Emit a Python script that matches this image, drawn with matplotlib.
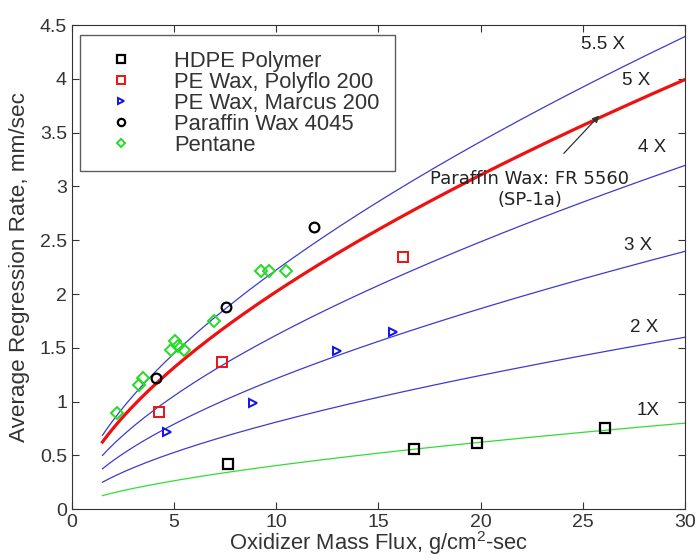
import matplotlib
matplotlib.use("Agg")
import matplotlib.pyplot as plt
import numpy as np

plt.rcParams['font.family'] = ['Liberation Sans', 'DejaVu Sans']
plt.rcParams['mathtext.fontset'] = 'custom'
plt.rcParams['mathtext.rm'] = 'Liberation Sans'

# regression law r = a * G^n, scaled by multiples
a_coef = 0.097
n_exp = 0.62
multiples = [1, 2, 3, 4, 5.5]
multiple_labels = ["1X", "2 X", "3 X", "4 X", "5.5 X"]
label_pos = [(28.2, 0.92), (28.0, 1.69), (27.7, 2.45), (28.4, 3.36), (26.0, 4.32)]
paraffin_multiple = 5

hdpe_x = [7.65, 16.75, 19.84, 26.07]
hdpe_y = [0.415, 0.557, 0.61, 0.75]
polyflo_x = [4.27, 7.33, 16.22]
polyflo_y = [0.90, 1.37, 2.34]
marcus_x = [4.67, 8.84, 12.95, 15.73]
marcus_y = [0.72, 0.99, 1.47, 1.65]
p4045_x = [4.14, 7.52, 11.85]
p4045_y = [1.215, 1.88, 2.62]
pentane_x = [2.22, 3.30, 3.46, 4.83, 5.04, 5.2, 5.48, 6.95, 9.25, 9.66, 10.47]
pentane_y = [0.895, 1.15, 1.22, 1.48, 1.56, 1.52, 1.48, 1.75, 2.21, 2.21, 2.21]

fig = plt.figure(figsize=(6.97, 5.6), dpi=100)
ax = fig.add_axes([0.103, 0.091, 0.88, 0.864])

G = np.linspace(1.5, 30, 200)
base = a_coef * G ** n_exp
for m, lab, pos in zip(multiples, multiple_labels, label_pos):
    col = "#33dd33" if m == 1 else "#3c3ccc"
    ax.plot(G, m * base, color=col, linewidth=0.9)
    ax.text(pos[0], pos[1], lab, fontsize=13.5, color="#222222", ha="center", va="center")
ax.plot(G, paraffin_multiple * base, color="#ee1111", linewidth=2.3)
ax.text(27.6, 3.99, "5 X", fontsize=13.5, color="#222222", ha="center", va="center")

ax.plot(hdpe_x, hdpe_y, "s", mfc="none", mec="black", ms=7, mew=1.6, label="HDPE Polymer")
ax.plot(polyflo_x, polyflo_y, "s", mfc="none", mec="#ee1111", ms=7, mew=1.4, label="PE Wax, Polyflo 200")
ax.plot(marcus_x, marcus_y, ">", mfc="none", mec="#1111ee", ms=6, mew=1.4, label="PE Wax, Marcus 200")
ax.plot(p4045_x, p4045_y, "o", mfc="none", mec="black", ms=7, mew=1.6, label="Paraffin Wax 4045")
ax.plot(pentane_x, pentane_y, "D", mfc="none", mec="#22dd22", ms=6, mew=1.4, label="Pentane")

ax.annotate("Paraffin Wax: FR 5560\n(SP-1a)", xy=(25.8, 3.66), xytext=(22.4, 2.97),
            fontsize=13, color="#222222", ha="center", va="center",
            family="DejaVu Sans",
            arrowprops=dict(arrowstyle="-|>", color="#333333", lw=0.9, shrinkA=14, shrinkB=0,
                            mutation_scale=10))

ax.set_xlim(0, 30)
ax.set_ylim(0, 4.5)
ax.set_xticks(range(0, 31, 5))
ax.set_yticks(np.arange(0, 4.51, 0.5))
ax.set_yticklabels(["0", "0.5", "1", "1.5", "2", "2.5", "3", "3.5", "4", "4.5"])
ax.tick_params(direction="in", top=True, right=True, labelsize=14, length=5, colors="#333333")
for s in ax.spines.values():
    s.set_color("#333333")
ax.set_xlabel("Oxidizer Mass Flux, g/cm$^\\mathrm{2}$-sec", fontsize=15.8, color="#333333", labelpad=-1)
ax.set_ylabel("Average Regression Rate, mm/sec", fontsize=16.2, color="#333333")
ax.yaxis.set_label_coords(-0.068, 0.5)

leg = ax.legend(loc="upper left", fontsize=15.8, frameon=True, fancybox=False,
                edgecolor="#333333", handletextpad=1.2, borderpad=0.7, labelspacing=0.0,
                handlelength=2.4, markerscale=0.75, borderaxespad=0,
                bbox_to_anchor=(0.013, 0.979))
leg.get_frame().set_linewidth(1.0)
for t in leg.get_texts():
    t.set_color("#333333")

fig.savefig("out.png", dpi=100)
